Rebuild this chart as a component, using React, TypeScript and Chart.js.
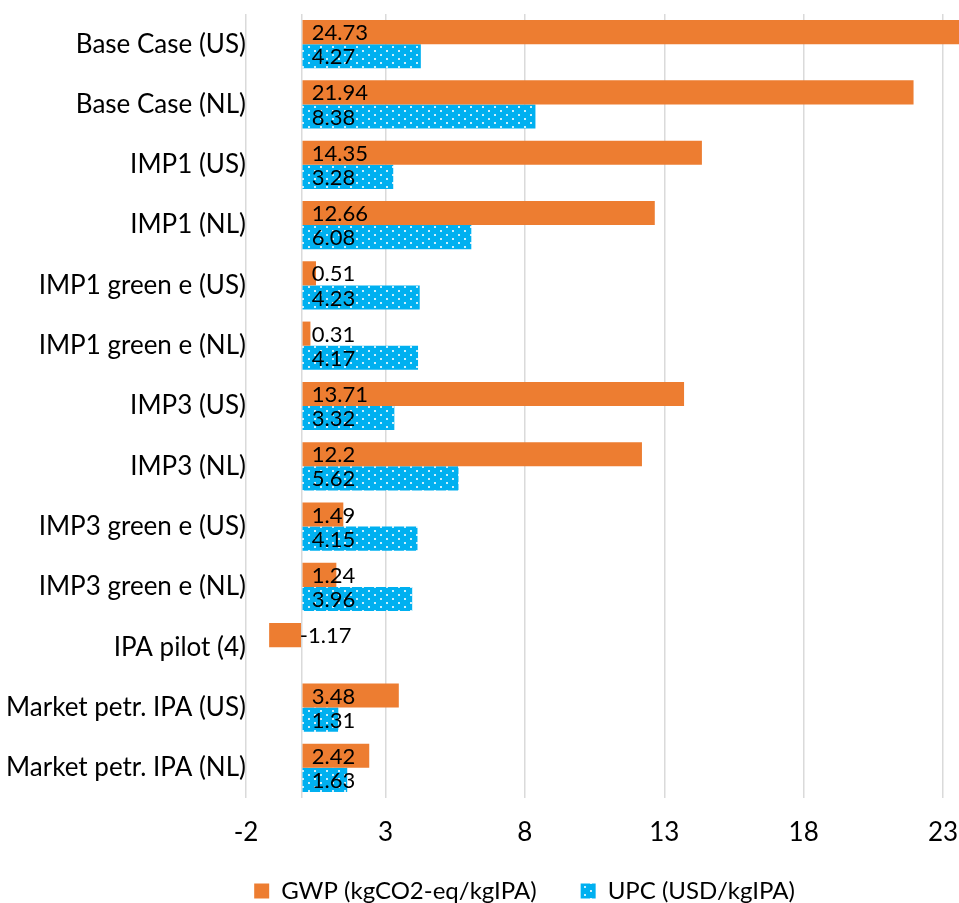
import React, { useEffect, useRef } from 'react';
import { Chart, registerables } from 'chart.js';

Chart.register(...registerables);

const categories = [
  'Base Case (US)',
  'Base Case (NL)',
  'IMP1 (US)',
  'IMP1 (NL)',
  'IMP1 green e (US)',
  'IMP1 green e (NL)',
  'IMP3 (US)',
  'IMP3 (NL)',
  'IMP3 green e (US)',
  'IMP3 green e (NL)',
  'IPA pilot (4)',
  'Market petr. IPA (US)',
  'Market petr. IPA (NL)',
];
const gwpValues = [24.73, 21.94, 14.35, 12.66, 0.51, 0.31, 13.71, 12.2, 1.49, 1.24, -1.17, 3.48, 2.42];
const upcValues = [4.27, 8.38, 3.28, 6.08, 4.23, 4.17, 3.32, 5.62, 4.15, 3.96, null, 1.31, 1.63];
const seriesNames = ['GWP (kgCO2-eq/kgIPA)', 'UPC (USD/kgIPA)'];
const xTickValues = [-2, 3, 8, 13, 18, 23];
const xMin = -2;
const xMax = 23.57;

const FONT = 'Lato';
const ORANGE = '#ED7D31';
const BLUE = '#00B0F0';
const LEGEND_DX = 45;
const LEGEND_DY = 10;

function makeDotPattern(): CanvasPattern | string {
  const c = document.createElement('canvas');
  c.width = 12;
  c.height = 8;
  const g = c.getContext('2d');
  if (!g) return BLUE;
  g.fillStyle = BLUE;
  g.fillRect(0, 0, 12, 8);
  g.fillStyle = 'rgba(255,255,255,0.8)';
  g.fillRect(2, 2, 2, 2);
  g.fillRect(8, 6, 2, 2);
  return g.createPattern(c, 'repeat') || BLUE;
}

const barLabelPlugin = {
  id: 'barLabels',
  afterDatasetsDraw(chart: any) {
    const ctx = chart.ctx;
    const x0 = chart.scales.x.getPixelForValue(0);
    ctx.save();
    ctx.font = `22px ${FONT}`;
    ctx.fillStyle = '#000';
    ctx.textBaseline = 'middle';
    ctx.textAlign = 'left';
    chart.data.datasets.forEach((ds: any, di: number) => {
      const meta = chart.getDatasetMeta(di);
      meta.data.forEach((el: any, i: number) => {
        const v = ds.data[i];
        if (v === null || v === undefined) return;
        const x = v < 0 ? x0 - 2 : x0 + 10;
        ctx.fillText(String(v), x, el.y + 1);
      });
    });
    ctx.restore();
  },
};

const layoutTweakPlugin = {
  id: 'layoutTweak',
  afterLayout(chart: any) {
    const l = chart.legend;
    if (l) {
      l.left += LEGEND_DX;
      l.right += LEGEND_DX;
      l.top += LEGEND_DY;
      l.bottom += LEGEND_DY;
    }
    const x = chart.scales.x;
    if (x) x.bottom = chart.height;
  },
};

export default function App() {
  const canvasRef = useRef<HTMLCanvasElement | null>(null);

  useEffect(() => {
    const canvas = canvasRef.current;
    if (!canvas) return;
    const pattern = makeDotPattern();
    const chart = new Chart(canvas, {
      type: 'bar',
      data: {
        labels: categories,
        datasets: [
          {
            label: seriesNames[0],
            data: gwpValues,
            backgroundColor: ORANGE,
            categoryPercentage: 0.8,
            barPercentage: 1.0,
          },
          {
            label: seriesNames[1],
            data: upcValues as any,
            backgroundColor: pattern as any,
            categoryPercentage: 0.8,
            barPercentage: 1.0,
          },
        ],
      },
      options: {
        indexAxis: 'y',
        responsive: false,
        maintainAspectRatio: false,
        devicePixelRatio: 1,
        animation: false,
        layout: { padding: { top: 14, left: 0, right: 0, bottom: 0 }, autoPadding: false } as any,
        scales: {
          x: {
            type: 'linear',
            min: xMin,
            max: xMax,
            afterBuildTicks: (s: any) => {
              s.ticks = [...xTickValues, 0].sort((a, b) => a - b).map((v) => ({ value: v }));
            },
            afterFit: (s: any) => {
              s.height = 27;
              s.paddingLeft = 0;
              s.paddingRight = 0;
            },
            ticks: {
              callback: (v: any) => (Number(v) === 0 ? '' : String(v)),
              font: { family: FONT, size: 26 },
              color: '#000',
              padding: 19,
              autoSkip: false,
              maxRotation: 0,
            },
            grid: { color: '#DADADA', lineWidth: 1.5, drawTicks: false },
            border: { display: false },
          },
          y: {
            afterFit: (s: any) => {
              s.width = 246;
              s.paddingTop = 0;
              s.paddingBottom = 0;
            },
            ticks: {
              font: { family: FONT, size: 26 },
              color: '#000',
              padding: 0,
              autoSkip: false,
            },
            grid: { display: false, drawTicks: false },
            border: { display: false },
          },
        },
        plugins: {
          legend: {
            position: 'bottom',
            labels: {
              font: { family: FONT, size: 24 },
              color: '#000',
              boxWidth: 15,
              boxHeight: 15,
              padding: 44,
            },
          },
          tooltip: { enabled: false },
        },
      },
      plugins: [barLabelPlugin, layoutTweakPlugin],
    });
    return () => chart.destroy();
  }, []);

  return (
    <div style={{ position: 'fixed', left: 0, top: 0, width: 959, height: 903, background: '#fff' }}>
      <canvas ref={canvasRef} width={959} height={903} style={{ display: 'block' }} />
    </div>
  );
}
